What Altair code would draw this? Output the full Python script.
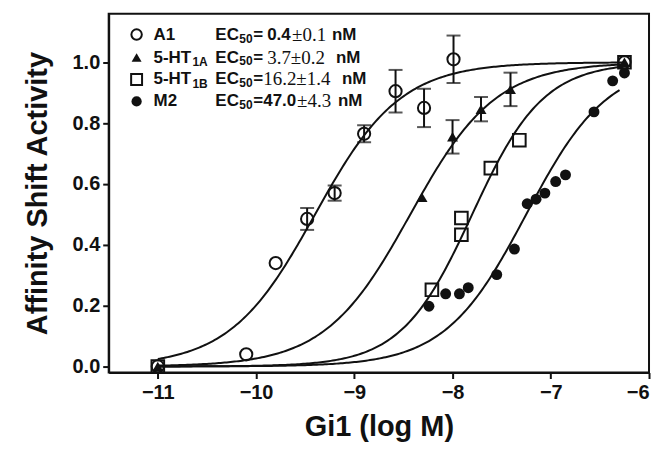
import altair as alt
import pandas as pd

# ---------------- data ----------------
series = ["A1", "5-HT1A", "5-HT1B", "M2"]

a1_x = [-11.0, -10.1, -9.8, -9.48, -9.2, -8.9, -8.58, -8.29, -7.99, -6.25]
a1_y = [0.0, 0.04, 0.34, 0.485, 0.57, 0.765, 0.905, 0.85, 1.01, 1.0]
a1_err = [0, 0, 0, 0.036, 0.025, 0.028, 0.07, 0.063, 0.078, 0]

ht1a_x = [-11.0, -8.31, -8.0, -7.71, -7.41, -6.25]
ht1a_y = [0.0, 0.556, 0.755, 0.846, 0.911, 1.0]
ht1a_err = [0, 0, 0.055, 0.04, 0.055, 0]

ht1b_x = [-11.0, -8.21, -7.91, -7.91, -7.61, -7.32, -6.25]
ht1b_y = [0.0, 0.252, 0.433, 0.488, 0.652, 0.744, 1.0]
ht1b_err = [0, 0, 0, 0, 0, 0, 0]

m2_x = [-8.24, -8.07, -7.93, -7.84, -7.55, -7.37, -7.24, -7.15, -7.06, -6.95, -6.85, -6.56, -6.37, -6.25]
m2_y = [0.198, 0.239, 0.239, 0.259, 0.302, 0.386, 0.535, 0.55, 0.57, 0.608, 0.63, 0.837, 0.939, 0.965]
m2_err = [0] * len(m2_x)

# fitted curves (log EC50, Hill slope, last x)
fit_logec50 = [-9.40, -8.43, -7.80, -7.25]
fit_hill = [1.0, 1.0, 1.2, 1.05]
fit_end = [-6.25, -6.25, -6.25, -6.30]

# legend text
legend_names = ["A1", "5-HT", "5-HT", "M2"]
legend_subs = ["", "1A", "1B", ""]
ec50_mean = ["0.4", "3.7", "16.2", "47.0"]
ec50_sem = ["0.1", "0.2", "1.4", "4.3"]

x_ticks = [-11, -10, -9, -8, -7, -6]
y_ticks = [0.0, 0.2, 0.4, 0.6, 0.8, 1.0]

# ---------------- build ----------------
def frame(xs, ys, es, name):
    return pd.DataFrame({"x": xs, "y": ys, "err": es, "series": name})

pts = pd.concat([
    frame(a1_x, a1_y, a1_err, series[0]),
    frame(ht1a_x, ht1a_y, ht1a_err, series[1]),
    frame(ht1b_x, ht1b_y, ht1b_err, series[2]),
    frame(m2_x, m2_y, m2_err, series[3]),
], ignore_index=True)

INK = "#111111"
SANS = "Liberation Sans"
SERIF = "Liberation Serif"

xs = alt.Scale(domain=[-11.5, -6], nice=False, zero=False)
ys = alt.Scale(domain=[-0.02, 1.16], nice=False, zero=False)

X = alt.X("x:Q", scale=xs, title="Gi1 (log M)",
          axis=alt.Axis(values=x_ticks, format="d"))
Y = alt.Y("y:Q", scale=ys, title="Affinity Shift Activity",
          axis=alt.Axis(values=y_ticks, format=".1f"))

layers = []

# curves
for i in range(4):
    expr = f"1/(1+pow(10,{fit_hill[i]}*({fit_logec50[i]}-datum.x)))"
    c = (alt.Chart(alt.sequence(-11.0, fit_end[i] + 0.001, 0.02, as_="x"))
         .transform_calculate(y=expr)
         .mark_line(color=INK, strokeWidth=2)
         .encode(x=X, y=Y))
    layers.append(c)

# error bars
eb = alt.Chart(pts).transform_filter("datum.err > 0").transform_calculate(
    lo="datum.y - datum.err", hi="datum.y + datum.err")
layers.append(eb.mark_rule(color=INK, strokeWidth=2).encode(
    x=X, y=alt.Y("lo:Q", scale=ys), y2="hi:Q"))
layers.append(eb.mark_tick(color=INK, thickness=2, size=14, orient="horizontal").encode(
    x=X, y=alt.Y("lo:Q", scale=ys)))
layers.append(eb.mark_tick(color=INK, thickness=2, size=14, orient="horizontal").encode(
    x=X, y=alt.Y("hi:Q", scale=ys)))

# points
base = alt.Chart(pts)
layers.append(base.transform_filter(alt.datum.series == series[0]).mark_point(
    shape="circle", size=150, filled=False, color=INK, strokeWidth=2, opacity=1).encode(x=X, y=Y))
layers.append(base.transform_filter(alt.datum.series == series[2]).mark_point(
    shape="square", size=160, filled=False, color=INK, strokeWidth=2, opacity=1).encode(x=X, y=Y))
layers.append(base.transform_filter(alt.datum.series == series[1]).mark_point(
    shape="triangle-up", size=120, filled=True, color=INK, opacity=1).encode(x=X, y=Y))
layers.append(base.transform_filter(alt.datum.series == series[3]).mark_point(
    shape="circle", size=120, filled=True, color=INK, opacity=1).encode(x=X, y=Y))

# legend (inside plot, top-left)
def txt(s, x, y, size=17, font=SANS, weight="bold"):
    return alt.Chart(pd.DataFrame({"t": [s]})).mark_text(
        align="left", baseline="middle", font=font, fontSize=size,
        fontWeight=weight, color=INK).encode(
        text="t:N", x=alt.value(x), y=alt.value(y))

def sym(y, shape, filled, size):
    return alt.Chart(pd.DataFrame({"t": [0]})).mark_point(
        shape=shape, filled=filled, size=size, color=INK, strokeWidth=2,
        opacity=1).encode(x=alt.value(28), y=alt.value(y))

row_y = [21, 44, 66, 88]
nm_x = [224, 228, 234, 230]
sym_spec = [("circle", False, 110), ("triangle-up", True, 100),
            ("square", False, 120), ("circle", True, 105)]
for i in range(4):
    yy = row_y[i]
    sh, fl, sz = sym_spec[i]
    layers.append(sym(yy, sh, fl, sz))
    layers.append(txt(legend_names[i], 45, yy, 17))
    if legend_subs[i]:
        layers.append(txt(legend_subs[i], 84, yy + 5, 12))
    layers.append(txt("EC", 107, yy, 17))
    layers.append(txt("50", 131, yy + 4, 12))
    layers.append(txt("=", 145, yy, 17))
    layers.append(txt("nM", nm_x[i], yy, 17))

# row-specific value styling
layers.append(txt(ec50_mean[0], 159, row_y[0], 17))
layers.append(txt("\u00b1" + ec50_sem[0], 184, row_y[0], 19, SERIF, "normal"))
layers.append(txt(ec50_mean[1] + "\u00b1" + ec50_sem[1], 159, row_y[1], 19, SERIF, "normal"))
layers.append(txt(ec50_mean[2] + "\u00b1" + ec50_sem[2], 155, row_y[2], 19, SERIF, "normal"))
layers.append(txt(ec50_mean[3], 155, row_y[3], 17))
layers.append(txt("\u00b1" + ec50_sem[3], 189, row_y[3], 19, SERIF, "normal"))

chart = alt.layer(*layers).properties(
    width=542, height=360,
    autosize=alt.AutoSizeParams(type="none"),
    padding={"left": 101, "top": 5, "right": 5, "bottom": 70},
).configure_view(stroke=INK, strokeWidth=2).configure_axis(
    grid=False,
    domainColor=INK, domainWidth=2,
    tickColor=INK, tickWidth=2, tickSize=6,
    labelFont=SANS, labelFontWeight="bold", labelFontSize=20, labelColor=INK,
    titleFont=SANS, titleFontWeight="bold", titleFontSize=29, titleColor=INK,
).configure_axisX(labelPadding=4, titlePadding=10).configure_axisY(
    labelPadding=3, titlePadding=20)

chart.save("out.html", embed_options={"renderer": "svg", "actions": False})
